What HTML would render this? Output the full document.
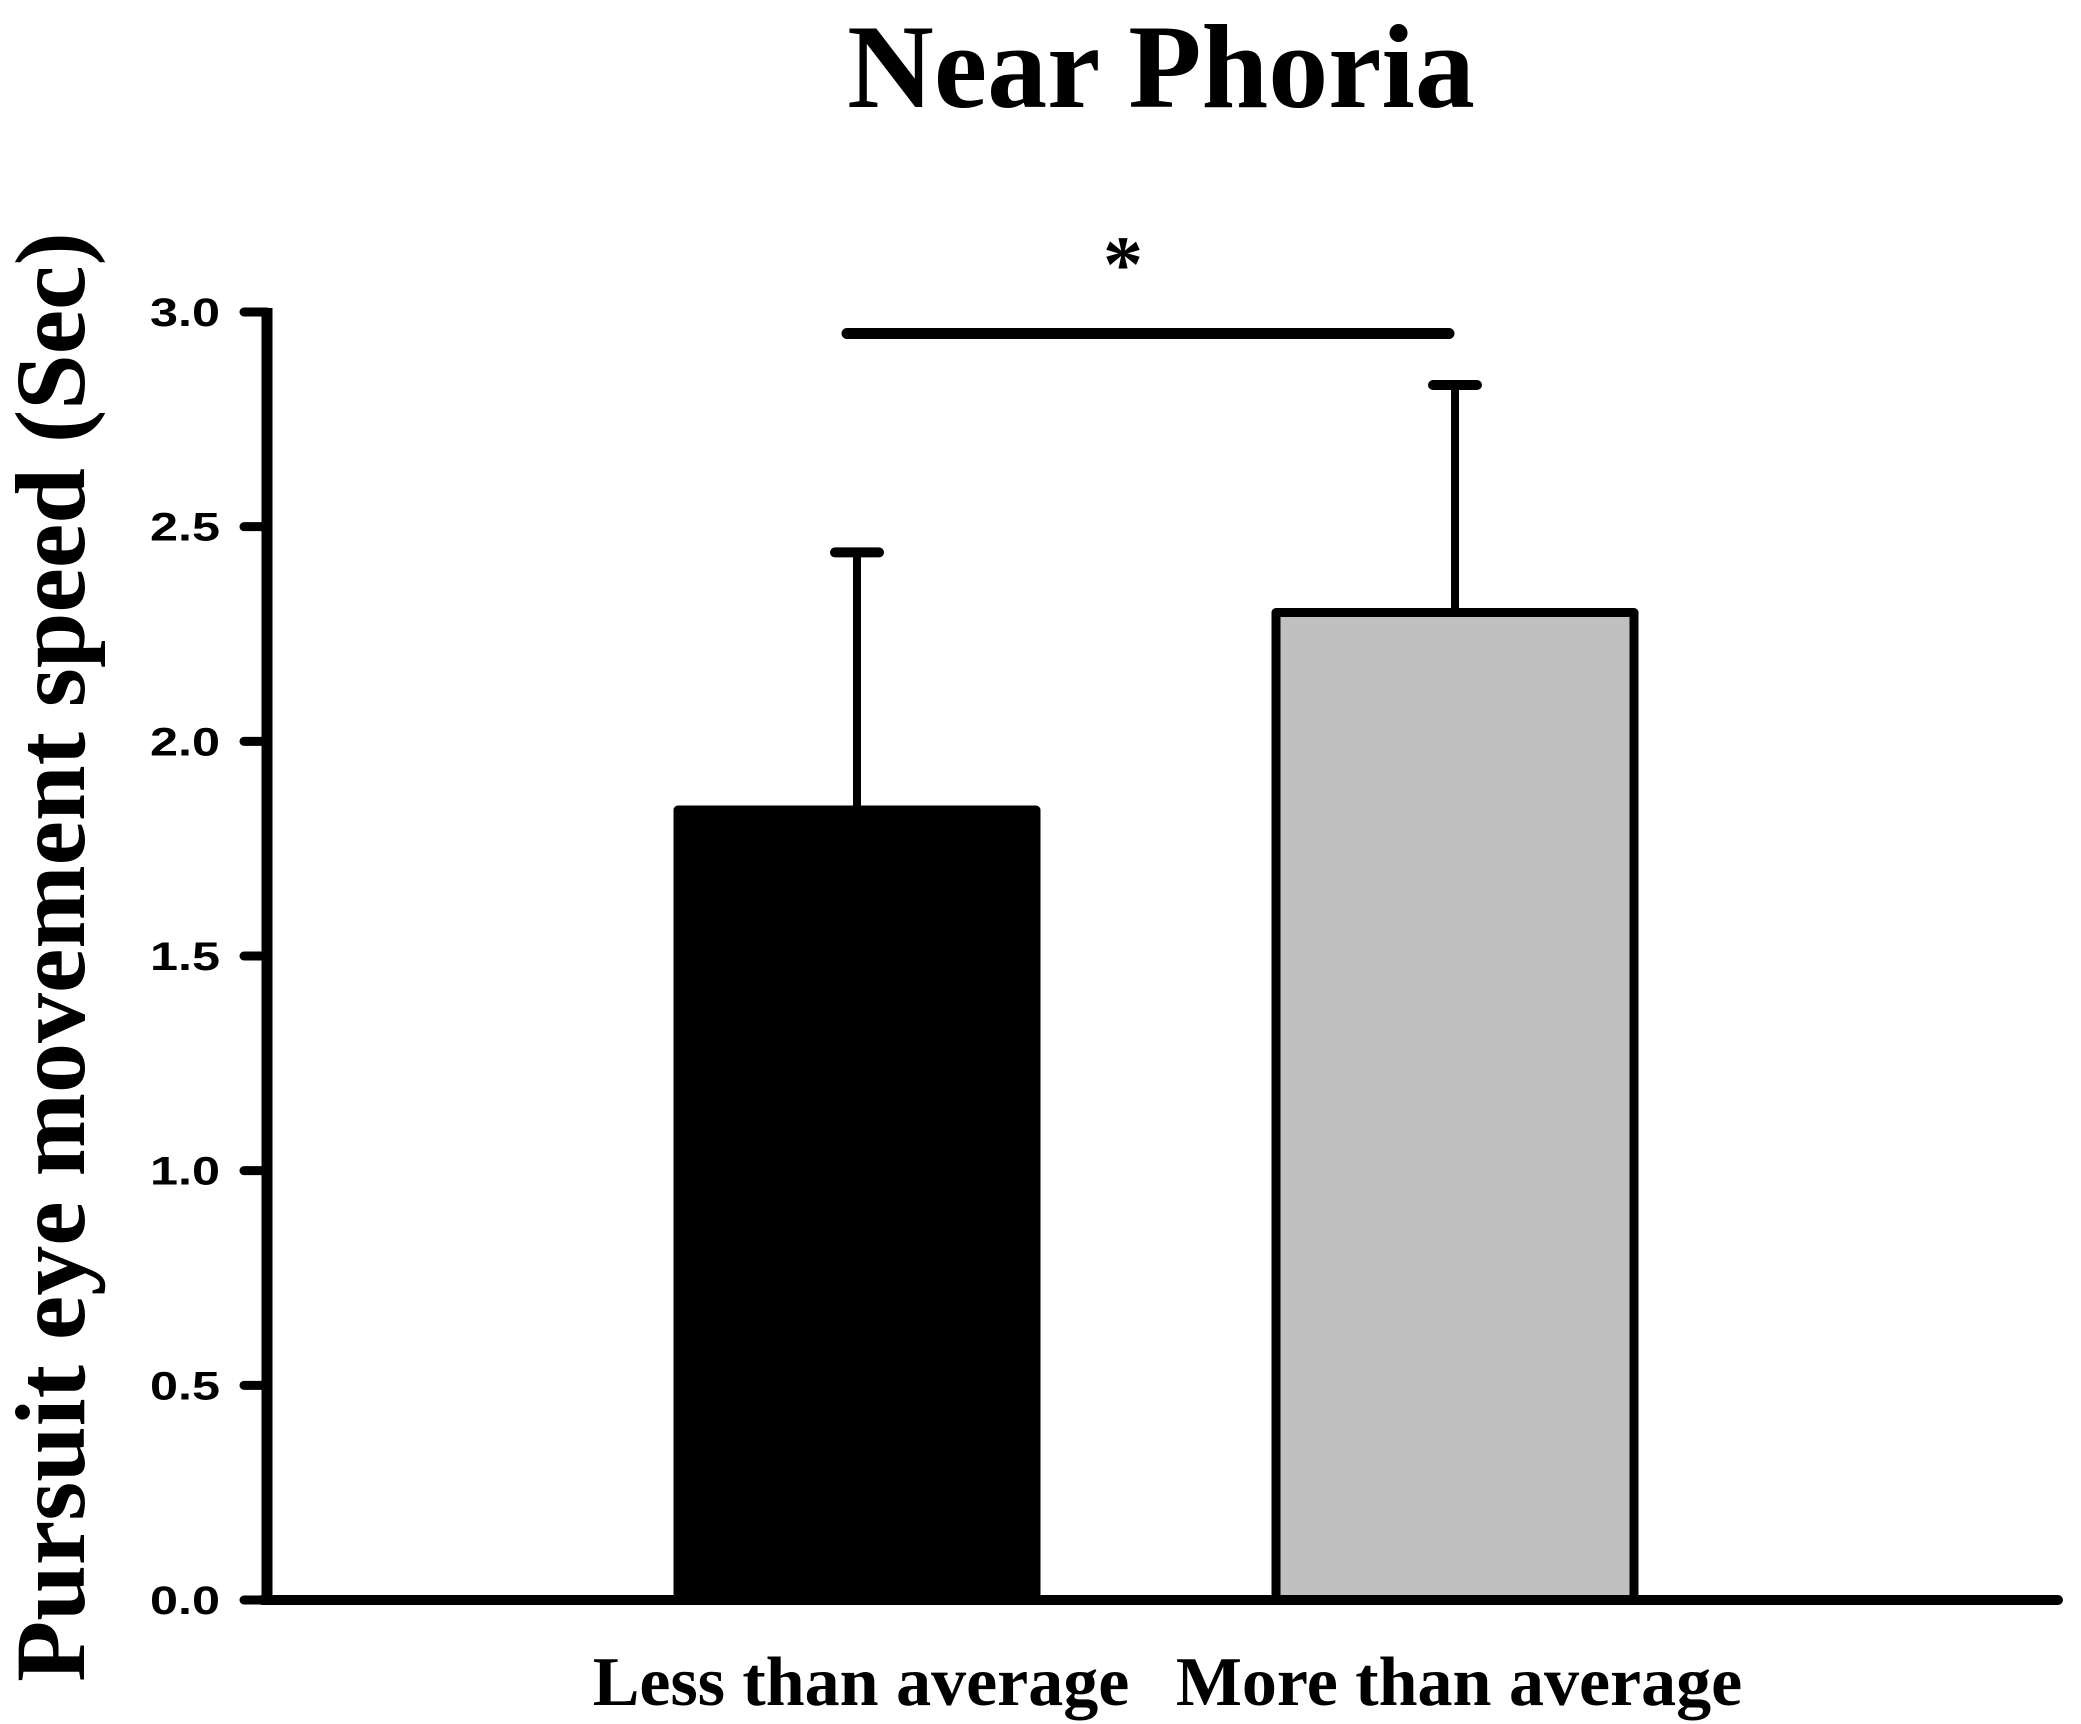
<!DOCTYPE html>
<html><head><meta charset="utf-8"><style>
body{margin:0;background:#fff}
svg{display:block}
</style></head><body>
<svg width="2081" height="1724" viewBox="0 0 2081 1724" id="chart">
<text x="1161" y="107" text-anchor="middle" font-family="Liberation Serif, serif" font-weight="bold" font-size="120">Near Phoria</text>
<text transform="translate(84,957) rotate(-90)" text-anchor="middle" font-family="Liberation Serif, serif" font-weight="bold" font-size="100">Pursuit eye movement speed (Sec)</text>
<g id="marks"></g>
</svg>
<script>
const categories = ["Less than average", "More than average"];
const means = [1.84, 2.30];
const errors = [0.60, 0.53];
const tickValues = [0, 0.5, 1.0, 1.5, 2.0, 2.5, 3.0];
const tickLabels = ["0.0","0.5","1.0","1.5","2.0","2.5","3.0"];
const fills = ["#000000", "#c0c0c0"];
const sigLevel = 2.95;

const NS = "http://www.w3.org/2000/svg";
const g = document.getElementById('marks');
const y0 = 1600, yTop = 312, yMax = 3.0;
function y(v){ return y0 - (v / yMax) * (y0 - yTop); }
const centers = [857, 1455], halfW = 183;
function x(i){ return centers[i]; }
function mk(tag, attrs){ const e = document.createElementNS(NS, tag); for (const k in attrs) e.setAttribute(k, attrs[k]); g.appendChild(e); return e; }

categories.forEach((c, i) => {
  const top = y(means[i]);
  const eb = y(means[i] + errors[i]);
  const ln = mk('line', {x1:x(i), x2:x(i), y1:top, y2:eb, stroke:'#000', 'stroke-width':8});
  
  
  const cap = mk('line', {x1:x(i)-22, x2:x(i)+22, y1:eb, y2:eb, stroke:'#000', 'stroke-width':10, 'stroke-linecap':'round'});
  
  
  const r = mk('rect', {x:x(i)-halfW+4, y:top, width:2*halfW-8, height:y0-top, fill:fills[i], stroke:'#000', 'stroke-width':9, 'stroke-linejoin':'round'});
  
  
  const t = mk('text', {x:x(i)+4, y:1705, 'text-anchor':'middle', 'font-family':'Liberation Serif, serif', 'font-weight':'bold', 'font-size':70});
  t.textContent = c;
  
  
});

tickValues.forEach((v, i) => {
  const tk = mk('line', {x1:244, x2:267, y1:y(v), y2:y(v), stroke:'#000', 'stroke-width':9, 'stroke-linecap':'round'});
  
  
  const tl = mk('text', {x:150, y:y(v)+14, 'font-family':'Liberation Sans, sans-serif', 'font-weight':'bold', 'font-size':40, textLength:70, lengthAdjust:'spacingAndGlyphs'});
  tl.textContent = tickLabels[i];
  
  
});

const ya = mk('line', {x1:267, x2:267, y1:yTop-4, y2:y0+5, stroke:'#000', 'stroke-width':11});


const xa = mk('line', {x1:262, x2:2058, y1:y0, y2:y0, stroke:'#000', 'stroke-width':10, 'stroke-linecap':'round'});



const sig = mk('line', {x1:x(0)-10, x2:x(1)-6, y1:y(sigLevel), y2:y(sigLevel), stroke:'#000', 'stroke-width':11, 'stroke-linecap':'round'});


const ast = mk('text', {x:(x(0)+x(1))/2-33, y:y(sigLevel)-42, 'text-anchor':'middle', 'font-family':'Liberation Serif, serif', 'font-weight':'bold', 'font-size':80});
ast.textContent = '*';


</script>
</body></html>
